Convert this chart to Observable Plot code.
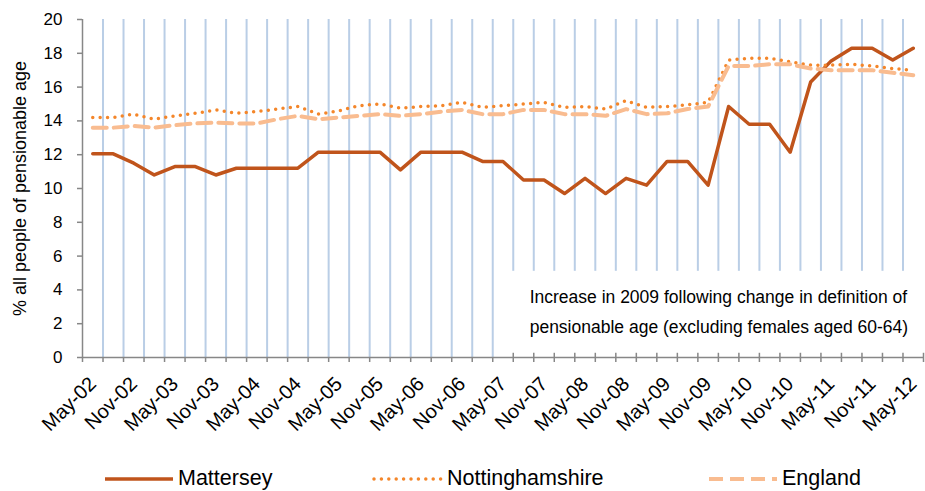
<!DOCTYPE html>
<html>
<head>
<meta charset="utf-8">
<script src="https://cdn.jsdelivr.net/npm/d3@7"></script>
<script src="https://cdn.jsdelivr.net/npm/@observablehq/plot@0.6"></script>
<style>
  html, body { margin: 0; padding: 0; background: #fff; }
  #wrap { width: 925px; font-family: "Liberation Sans", Arial, sans-serif; }
  #legend { position: relative; width: 925px; height: 41px; font-size: 21.5px; color: #000; }
  #legend .item { position: absolute; top: 8px; height: 41px; display: flex; align-items: center; }
  #legend svg { display: block; }
</style>
</head>
<body>
<div id="wrap">
  <div id="chart"></div>
  <div id="legend"></div>
</div>
<script>
// ---- data ----
const quarters = ["May-02","Aug-02","Nov-02","Feb-03","May-03","Aug-03","Nov-03","Feb-04","May-04","Aug-04","Nov-04",
  "Feb-05","May-05","Aug-05","Nov-05","Feb-06","May-06","Aug-06","Nov-06","Feb-07","May-07","Aug-07","Nov-07",
  "Feb-08","May-08","Aug-08","Nov-08","Feb-09","May-09","Aug-09","Nov-09","Feb-10","May-10","Aug-10","Nov-10",
  "Feb-11","May-11","Aug-11","Nov-11","Feb-12","May-12"];
const tickLabels = ["May-02","Nov-02","May-03","Nov-03","May-04","Nov-04","May-05","Nov-05","May-06","Nov-06","May-07",
  "Nov-07","May-08","Nov-08","May-09","Nov-09","May-10","Nov-10","May-11","Nov-11","May-12"];
const mattersey = [12.05,12.05,11.5,10.8,11.3,11.3,10.8,11.2,11.2,11.2,11.2,12.15,12.15,12.15,12.15,11.1,12.15,12.15,12.15,11.6,11.6,
  10.5,10.5,9.7,10.6,9.7,10.6,10.2,11.6,11.6,10.2,14.85,13.8,13.8,12.15,16.3,17.55,18.3,18.3,17.6,18.3];
const nottinghamshire = [14.2,14.2,14.4,14.1,14.3,14.45,14.65,14.45,14.55,14.7,14.85,14.4,14.6,14.9,15.0,14.75,14.85,14.9,15.1,14.8,
  14.9,15.0,15.1,14.8,14.85,14.7,15.2,14.8,14.85,14.95,15.1,17.6,17.7,17.7,17.5,17.3,17.3,17.35,17.25,17.1,17.0];
const england = [13.6,13.6,13.7,13.6,13.75,13.85,13.9,13.85,13.85,14.1,14.3,14.1,14.2,14.3,14.4,14.3,14.4,14.55,14.65,14.4,
  14.4,14.65,14.65,14.4,14.4,14.3,14.7,14.4,14.45,14.7,14.85,17.25,17.25,17.35,17.35,17.1,17.0,17.0,17.0,16.85,16.7];
const yTicks = [0,2,4,6,8,10,12,14,16,18,20];
const seriesNames = ["Mattersey","Nottinghamshire","England"];
const yTitle = "% all people of pensionable age";
const noteText = "Increase in 2009 following change in definition of\npensionable age (excluding females aged 60-64)";

// ---- styling / layout ----
const colors = {Mattersey: "#C0541B", Nottinghamshire: "#F4862A", England: "#F9BC90"};
const gridColor = "#BACEE6";
const axisColor = "#878787";
const note = {x: 21.3, y: 2.9, boxLeft: 20.2, boxTop: 5.1};

const n = quarters.length;
const bounds = d3.range(-0.5, n, 1);              // category boundaries
const innerBounds = bounds.filter(b => b > -0.5 && b < n - 0.5);
const labelIdx = tickLabels.map(l => quarters.indexOf(l));

const chart = Plot.plot({
  width: 925,
  height: 450,
  marginLeft: 82,
  marginRight: 2,
  marginTop: 19,
  marginBottom: 93,
  style: {fontFamily: "'Liberation Sans', Arial, sans-serif", color: "#000", background: "#fff", overflow: "visible"},
  x: {type: "linear", domain: [-0.5, n - 0.5]},
  y: {domain: [0, 20]},
  marks: [
    Plot.ruleX(innerBounds.filter(b => b < note.boxLeft), {y1: 0, y2: 20, stroke: gridColor, strokeWidth: 2}),
    Plot.ruleX(innerBounds.filter(b => b > note.boxLeft), {y1: note.boxTop, y2: 20, stroke: gridColor, strokeWidth: 2}),
    Plot.ruleX(bounds.filter(b => b > note.boxLeft), {y1: 0, y2: 0.25, stroke: axisColor, strokeWidth: 1.5}),
    Plot.ruleY([0], {stroke: axisColor, strokeWidth: 1.5}),
    Plot.ruleX([-0.5], {stroke: axisColor, strokeWidth: 1.5}),
    Plot.axisY({ticks: yTicks, tickSize: 5, tickPadding: 15, fontSize: 17, stroke: axisColor, strokeWidth: 1.5, label: null}),
    Plot.axisY({ticks: [], tickSize: 0, fontSize: 18,
      label: yTitle, labelAnchor: "center", labelArrow: "none", labelOffset: 69}),
    Plot.axisX({ticks: bounds, tickSize: 5, tickFormat: () => "", label: null, stroke: axisColor, strokeWidth: 1.5}),
    Plot.axisX({ticks: labelIdx, tickSize: 0, tickPadding: 23, tickRotate: -45, fontSize: 20,
      tickFormat: i => quarters[i], label: null}),
    Plot.lineY(mattersey, {stroke: colors.Mattersey, strokeWidth: 3.5, strokeLinejoin: "round"}),
    Plot.lineY(nottinghamshire, {stroke: colors.Nottinghamshire, strokeWidth: 3.5, strokeDasharray: "0,7.4", strokeLinecap: "round"}),
    Plot.lineY(england, {stroke: colors.England, strokeWidth: 4, strokeDasharray: "14,7"}),
    Plot.text([noteText], {x: note.x, y: note.y, text: d => d, textAnchor: "start", lineAnchor: "middle",
      lineHeight: 1.72, fontSize: 17.5, fill: "#000"})
  ]
});
document.getElementById("chart").appendChild(chart);

// ---- legend ----
const legendLayout = [
  {name: "Mattersey", left: 103, dash: null, width: 3.5, cap: "butt"},
  {name: "Nottinghamshire", left: 372, dash: "0,7.4", width: 3.5, cap: "round"},
  {name: "England", left: 707, dash: "14,7", width: 4, cap: "butt"}
];
const legend = d3.select("#legend");
legendLayout.forEach(l => {
  const item = legend.append("div").attr("class", "item").style("left", l.left + "px");
  const s = item.append("svg").attr("width", 72).attr("height", 10);
  s.append("line").attr("x1", 2).attr("x2", 70).attr("y1", 5).attr("y2", 5)
    .attr("stroke", colors[l.name]).attr("stroke-width", l.width)
    .attr("stroke-dasharray", l.dash).attr("stroke-linecap", l.cap);
  item.append("span").style("margin-left", "3px").text(l.name);
});
</script>
</body>
</html>
